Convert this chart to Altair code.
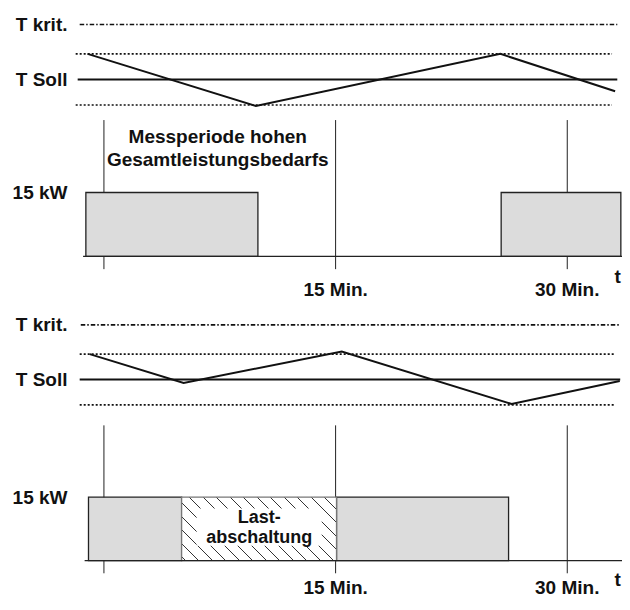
import altair as alt
import pandas as pd

# ---------------- data ----------------
# time axis (minutes)
tick_minutes = [15, 30]
tick_labels = ["15 Min.", "30 Min."]
marker_minutes = [0, 15, 30]
t_label_minute = [33.27]

# temperature levels (relative to set point, tolerance band = +/-1)
t_krit = 2.15
t_soll = 0.0
band_levels = [1.0, -1.0]

# power level (kW)
p_kw = 15
marker_kw_top = 32
marker_kw_bottom = -3

# panel 1 (top)
top_temp_min = [-1.06, 9.84, 25.67, 33.1]
top_temp_val = [1.0, -1.04, 1.0, -0.46]
top_bar_from = [-1.17, 25.72]
top_bar_to = [9.97, 33.47]
top_note = ["Messperiode hohen", "Gesamtleistungsbedarfs"]
top_note_min = [7.37, 7.37]
top_note_kw = [28.1, 22.6]

# panel 2 (bottom)
bot_temp_min = [-0.92, 5.16, 15.4, 26.4, 33.4]
bot_temp_val = [1.0, -0.14, 1.1, -0.97, -0.06]
bot_bar_from = [-1.0, 15.06]
bot_bar_to = [5.03, 26.2]
bot_shed_from = [5.03]
bot_shed_to = [15.06]
bot_note = ["Last-", "abschaltung"]
bot_note_min = [10.05, 10.05]
bot_note_kw = [10.1, 5.4]
bot_note_box = [6.0, 14.1, 3.5, 12.3]  # min from/to, kW from/to

# horizontal line extents (minutes): krit, band, soll, baseline
top_ext = {"krit": (-1.57, 33.24), "band": (-1.83, 32.9), "soll": (-1.7, 33.24), "base": (-1.35, 33.56)}
bot_ext = {"krit": (-1.5, 33.37), "band": (-1.57, 33.05), "soll": (-1.57, 33.43), "base": (-1.25, 33.56)}

# ---------------- layout / styling ----------------
FONT = "Liberation Sans"
PAD_L = 68
X0 = 8 + PAD_L                 # page x of plot origin
W_PLOT, H_PLOT = 614 - PAD_L, 590
X_DOMAIN = [-1.83, 33.56]
INK = "#111111"
KX, BX = 0.99, -1.5            # slight squeeze so the page fits the window
KY, BY = 0.983, 0.3


def rx(page_x):
    return KX * page_x + BX - X0


def ry(page_y):
    return KY * page_y + BY - 8


xs = alt.Scale(domain=X_DOMAIN, range=[rx(106.5 + 15.6 * d) for d in X_DOMAIN],
               nice=False, zero=False)


def ax_labels(values, expr):
    return alt.Axis(values=values, labelExpr=expr, orient="left", offset=0, domain=False,
                    ticks=False, tickSize=0, grid=False, title=None, labelFont=FONT,
                    labelFontSize=19, labelFontWeight="bold", labelColor=INK,
                    labelPadding=9, labelBaseline="middle", labelFlush=False,
                    labelOverlap=False)


def temp_group(tmin, tval, ext, soll_px, unit_px):
    ys = alt.Scale(domain=[-1, t_krit],
                   range=[ry(soll_px + unit_px), ry(soll_px - t_krit * unit_px)],
                   nice=False, zero=False)
    krit = pd.DataFrame({"x": [ext["krit"][0]], "x2": [ext["krit"][1]], "v": [t_krit]})
    soll = pd.DataFrame({"x": [ext["soll"][0]], "x2": [ext["soll"][1]], "v": [t_soll]})
    band = pd.DataFrame({"x": [ext["band"][0]] * 2, "x2": [ext["band"][1]] * 2, "v": band_levels})
    zig = pd.DataFrame({"x": tmin, "v": tval})
    l_soll = alt.Chart(soll).mark_rule(color=INK, strokeWidth=2).encode(
        x=alt.X("x:Q", scale=xs, axis=None), x2="x2:Q",
        y=alt.Y("v:Q", scale=ys,
                axis=ax_labels([t_krit, t_soll], "datum.value > 1 ? 'T krit.' : 'T Soll'")))
    l_krit = alt.Chart(krit).mark_rule(color=INK, strokeWidth=1.6, strokeDash=[4.5, 2, 1.5, 2]).encode(
        x=alt.X("x:Q", scale=xs, axis=None), x2="x2:Q", y=alt.Y("v:Q", scale=ys))
    l_band = alt.Chart(band).mark_rule(color=INK, strokeWidth=1.7, strokeDash=[2, 2]).encode(
        x=alt.X("x:Q", scale=xs, axis=None), x2="x2:Q", y=alt.Y("v:Q", scale=ys))
    l_zig = alt.Chart(zig).mark_line(color=INK, strokeWidth=2).encode(
        x=alt.X("x:Q", scale=xs, axis=None), y=alt.Y("v:Q", scale=ys))
    return alt.layer(l_soll, l_krit, l_band, l_zig)


def hatch_fill(w, h, spacing=13.5, lw=1.3, phase=3.0):
    tot = w + h
    t = tot * w * h / (w * w + h * h)
    stops = [{"offset": 0, "color": "white"}]
    d = phase
    while d < tot:
        a = d / tot
        b = min((d + lw) / tot, 1.0)
        stops += [{"offset": a, "color": "white"}, {"offset": a, "color": "#333333"},
                  {"offset": b, "color": "#333333"}, {"offset": b, "color": "white"}]
        d += spacing
    stops.append({"offset": 1, "color": "white"})
    return {"gradient": "linear", "x1": 0, "y1": 1, "x2": t / h, "y2": 1 - t / w, "stops": stops}


def power_group(bar_from, bar_to, ext, zero_px, top_px, note, note_min, note_kw, min_dy, t_dy,
                shed=None, box=None, note_size=19):
    yr = [ry(zero_px), ry(top_px)]
    ys = alt.Scale(domain=[0, p_kw], range=yr, nice=False, zero=False)
    px_per_min = 15.6 * KX
    px_per_kw = (yr[0] - yr[1]) / p_kw
    marks = pd.DataFrame({"x": marker_minutes, "y": [marker_kw_top] * 3, "y2": [marker_kw_bottom] * 3})
    bars = pd.DataFrame({"x": bar_from, "x2": bar_to, "y": [0] * len(bar_from), "y2": [p_kw] * len(bar_from)})
    base = pd.DataFrame({"x": [ext["base"][0]], "x2": [ext["base"][1]], "y": [0]})
    ticks = pd.DataFrame({"x": tick_minutes, "y": [0, 0], "label": tick_labels})
    tlab = pd.DataFrame({"x": t_label_minute, "y": [0], "label": ["t"]})
    notes = pd.DataFrame({"x": note_min, "y": note_kw, "label": note})

    l_marks = alt.Chart(marks).mark_rule(color="#222222", strokeWidth=1).encode(
        x=alt.X("x:Q", scale=xs, axis=None),
        y=alt.Y("y:Q", scale=ys, axis=ax_labels([p_kw], "'15 kW'")), y2="y2:Q")
    l_bars = alt.Chart(bars).mark_rect(fill="#dcdcdc", stroke="#222222", strokeWidth=1.3).encode(
        x=alt.X("x:Q", scale=xs, axis=None), x2="x2:Q", y=alt.Y("y:Q", scale=ys), y2="y2:Q")
    layers = [l_marks, l_bars]
    if shed is not None:
        sw = (shed[1][0] - shed[0][0]) * px_per_min
        sh = p_kw * px_per_kw
        sdf = pd.DataFrame({"x": shed[0], "x2": shed[1], "y": [0], "y2": [p_kw]})
        layers.append(alt.Chart(sdf).mark_rect(fill=hatch_fill(sw, sh), stroke="#777777",
                                               strokeWidth=1.3).encode(
            x=alt.X("x:Q", scale=xs, axis=None), x2="x2:Q", y=alt.Y("y:Q", scale=ys), y2="y2:Q"))
        bdf = pd.DataFrame({"x": [box[0]], "x2": [box[1]], "y": [box[2]], "y2": [box[3]]})
        layers.append(alt.Chart(bdf).mark_rect(fill="white").encode(
            x=alt.X("x:Q", scale=xs, axis=None), x2="x2:Q", y=alt.Y("y:Q", scale=ys), y2="y2:Q"))
    l_base = alt.Chart(base).mark_rule(color="#222222", strokeWidth=1.3).encode(
        x=alt.X("x:Q", scale=xs, axis=None), x2="x2:Q", y=alt.Y("y:Q", scale=ys))
    l_ticks = alt.Chart(ticks).mark_text(font=FONT, fontSize=19, fontWeight="bold", color=INK,
                                         baseline="middle", dy=min_dy).encode(
        x=alt.X("x:Q", scale=xs, axis=None), y=alt.Y("y:Q", scale=ys), text="label:N")
    l_t = alt.Chart(tlab).mark_text(font=FONT, fontSize=19, fontWeight="bold", color=INK,
                                    baseline="middle", dy=t_dy).encode(
        x=alt.X("x:Q", scale=xs, axis=None), y=alt.Y("y:Q", scale=ys), text="label:N")
    l_notes = alt.Chart(notes).mark_text(font=FONT, fontSize=note_size, fontWeight="bold", color=INK,
                                         baseline="middle").encode(
        x=alt.X("x:Q", scale=xs, axis=None), y=alt.Y("y:Q", scale=ys), text="label:N")
    layers += [l_base, l_ticks, l_t, l_notes]
    return alt.layer(*layers)


top_T = temp_group(top_temp_min, top_temp_val, top_ext, 80.5, 26)
top_P = power_group(top_bar_from, top_bar_to, top_ext, 260.5, 195.5,
                    top_note, top_note_min, top_note_kw, 33.5, 20.5)
bot_T = temp_group(bot_temp_min, bot_temp_val, bot_ext, 385.7, 25.8)
bot_P = power_group(bot_bar_from, bot_bar_to, bot_ext, 570, 505.5,
                    bot_note, bot_note_min, bot_note_kw, 27.5, 19,
                    shed=(bot_shed_from, bot_shed_to), box=bot_note_box, note_size=18)

chart = alt.layer(top_T, top_P, bot_T, bot_P).resolve_scale(y="independent").properties(
    width=W_PLOT, height=H_PLOT,
    padding={"left": PAD_L, "top": 0, "right": 0, "bottom": 0},
    autosize=alt.AutoSizeParams(type="none"),
).configure_view(stroke=None)

chart.save("out.html", embed_options={"renderer": "svg", "actions": False})
